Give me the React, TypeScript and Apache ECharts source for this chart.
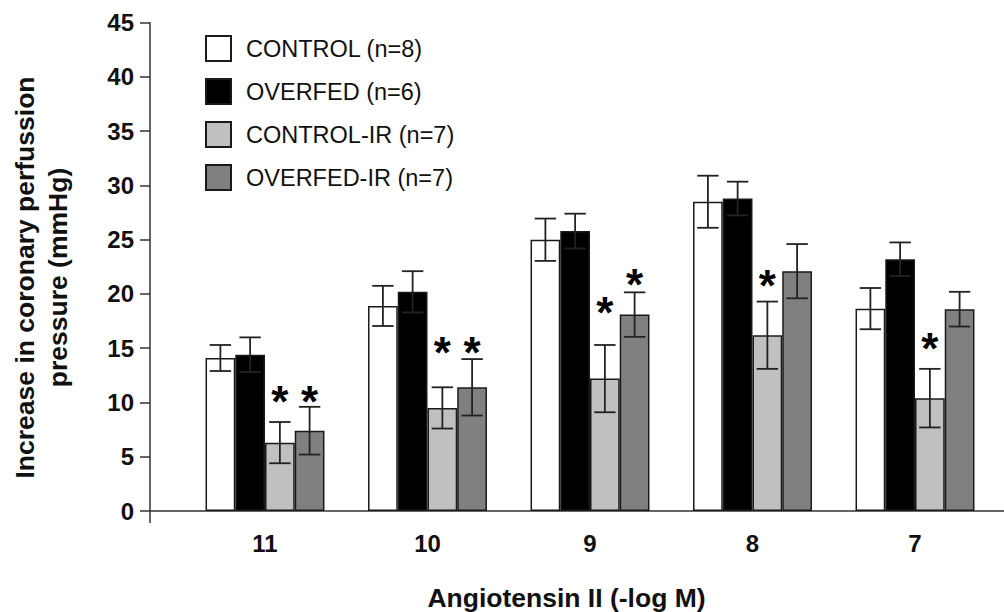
import React, { useEffect, useRef } from "react";
import * as echarts from "echarts";

const CATEGORIES = ["11", "10", "9", "8", "7"];
const SERIES_NAMES = ["CONTROL (n=8)", "OVERFED (n=6)", "CONTROL-IR (n=7)", "OVERFED-IR (n=7)"];
const SERIES_COLORS = ["#ffffff", "#000000", "#c0c0c0", "#808080"];

const CONTROL = [14.1, 18.9, 25.0, 28.5, 18.65];
const CONTROL_ERR = [1.2, 1.85, 1.95, 2.4, 1.9];
const OVERFED = [14.4, 20.2, 25.8, 28.8, 23.2];
const OVERFED_ERR = [1.6, 1.9, 1.6, 1.55, 1.55];
const CONTROL_IR = [6.3, 9.5, 12.2, 16.2, 10.4];
const CONTROL_IR_ERR = [1.9, 1.9, 3.1, 3.1, 2.7];
const OVERFED_IR = [7.4, 11.4, 18.1, 22.1, 18.6];
const OVERFED_IR_ERR = [2.2, 2.6, 2.05, 2.5, 1.6];

// y position (data units) of the significance asterisks
const STAR_CONTROL_IR = [10.9, 15.45, 19.1, 21.6, 15.8];
const STAR_OVERFED_IR = [10.9, 15.45, 21.7, null, null];

const Y_TICKS_MIN = 0;
const Y_TICKS_MAX = 45;
const Y_TICKS_INTERVAL = 5;

const FONT = "'Liberation Sans', Arial, Helvetica, sans-serif";
const CAT_GAP = 0.268;

export default function App() {
  const ref = useRef<HTMLDivElement>(null);

  useEffect(() => {
    if (!ref.current) return;
    const chart = echarts.init(ref.current, undefined, { renderer: "svg" });

    const values = [CONTROL, OVERFED, CONTROL_IR, OVERFED_IR];
    const errs = [CONTROL_ERR, OVERFED_ERR, CONTROL_IR_ERR, OVERFED_IR_ERR];
    const nSeries = values.length;

    const errData: number[][] = [];
    values.forEach((arr, s) => {
      arr.forEach((v, c) => errData.push([c, s, v, errs[s][c]]));
    });
    const starData: number[][] = [];
    STAR_CONTROL_IR.forEach((v, c) => {
      if (v != null) starData.push([c, 2, v]);
    });
    STAR_OVERFED_IR.forEach((v, c) => {
      if (v != null) starData.push([c, 3, v]);
    });

    const barOffset = (api: any, s: number) => {
      const band = api.size([1, 0])[0];
      const groupW = band * (1 - CAT_GAP);
      const bw = groupW / nSeries;
      return { off: -groupW / 2 + bw * (s + 0.5), bw };
    };

    const barSeries = values.map((arr, s) => ({
      type: "bar",
      name: SERIES_NAMES[s],
      xAxisIndex: 0,
      yAxisIndex: 0,
      data: arr,
      barGap: "0%",
      barCategoryGap: CAT_GAP * 100 + "%",
      itemStyle: {
        color: SERIES_COLORS[s],
        borderColor: "#1a1a1a",
        borderWidth: 1.5,
      },
      emphasis: { disabled: true },
      z: 2,
    }));

    const option: any = {
      animation: false,
      backgroundColor: "#ffffff",
      textStyle: { fontFamily: FONT },
      grid: [
        { left: 183.75, width: 812.5, top: 22.7, bottom: 101, containLabel: false },
        { left: 150, right: 0, top: 22.7, bottom: 101, containLabel: false },
      ],
      legend: {
        orient: "vertical",
        left: 200,
        top: 30,
        itemWidth: 25,
        itemHeight: 25,
        itemGap: 16,
        icon: "rect",
        selectedMode: false,
        data: SERIES_NAMES,
        textStyle: {
          fontFamily: FONT,
          fontSize: 23.5,
          color: "#111",
          padding: [0, 0, 0, 10],
        },
      },
      xAxis: [
        {
          type: "category",
          gridIndex: 0,
          data: CATEGORIES,
          axisLine: { show: false },
          axisTick: { show: false },
          axisLabel: {
            fontFamily: FONT,
            fontSize: 24,
            fontWeight: "bold",
            color: "#111",
            margin: 20,
          },
          splitLine: { show: false },
        },
        {
          type: "value",
          gridIndex: 1,
          min: 0,
          max: 1,
          axisLine: { show: true, lineStyle: { color: "#333", width: 1.5 } },
          axisTick: { show: false },
          axisLabel: { show: false },
          splitLine: { show: false },
        },
      ],
      yAxis: [
        {
          type: "value",
          gridIndex: 0,
          min: Y_TICKS_MIN,
          max: Y_TICKS_MAX,
          interval: Y_TICKS_INTERVAL,
          show: false,
        },
        {
          type: "value",
          gridIndex: 1,
          min: Y_TICKS_MIN,
          max: Y_TICKS_MAX,
          interval: Y_TICKS_INTERVAL,
          axisLine: { show: true, lineStyle: { color: "#333", width: 1.5 } },
          axisTick: { show: true, inside: false, length: 10, lineStyle: { color: "#333", width: 1.5 } },
          axisLabel: {
            fontFamily: FONT,
            fontSize: 24,
            fontWeight: "bold",
            color: "#111",
            margin: 16,
          },
          splitLine: { show: false },
        },
      ],
      series: [
        ...barSeries,
        {
          type: "custom",
          name: "errors",
          xAxisIndex: 0,
          yAxisIndex: 0,
          z: 5,
          silent: true,
          data: errData,
          encode: { x: 0, y: 2 },
          renderItem: (params: any, api: any) => {
            const c = api.value(0);
            const s = api.value(1);
            const m = api.value(2);
            const e = api.value(3);
            const { off, bw } = barOffset(api, s);
            const top = api.coord([c, m + e]);
            const bot = api.coord([c, m - e]);
            const x = top[0] + off;
            const hw = bw * 0.36;
            const style = { stroke: "#222", lineWidth: 1.8, fill: "none" };
            return {
              type: "group",
              children: [
                { type: "line", shape: { x1: x, y1: top[1], x2: x, y2: bot[1] }, style },
                { type: "line", shape: { x1: x - hw, y1: top[1], x2: x + hw, y2: top[1] }, style },
                { type: "line", shape: { x1: x - hw, y1: bot[1], x2: x + hw, y2: bot[1] }, style },
              ],
            };
          },
        },
        {
          type: "custom",
          name: "stars",
          xAxisIndex: 0,
          yAxisIndex: 0,
          z: 6,
          silent: true,
          data: starData,
          encode: { x: 0, y: 2 },
          renderItem: (params: any, api: any) => {
            const c = api.value(0);
            const s = api.value(1);
            const v = api.value(2);
            const { off } = barOffset(api, s);
            const p = api.coord([c, v]);
            const fs = 44;
            return {
              type: "text",
              x: p[0] + off,
              y: p[1] + fs * 0.2,
              style: {
                text: "*",
                fontFamily: FONT,
                fontSize: fs,
                fontWeight: "bold",
                fill: "#000",
                align: "center",
                verticalAlign: "middle",
              },
            };
          },
        },
      ],
      graphic: [
        {
          type: "line",
          shape: { x1: 150, y1: 511, x2: 150, y2: 523 },
          style: { stroke: "#333", lineWidth: 1.5 },
          silent: true,
        },
        {
          type: "text",
          x: 566.5,
          y: 597.5,
          style: {
            text: "Angiotensin II (-log M)",
            fontFamily: FONT,
            fontSize: 26.5,
            fontWeight: "bold",
            fill: "#111",
            align: "center",
            verticalAlign: "middle",
          },
          silent: true,
        },
        {
          type: "text",
          x: 24.5,
          y: 277.5,
          rotation: Math.PI / 2,
          style: {
            text: "Increase in coronary perfussion",
            fontFamily: FONT,
            fontSize: 26.5,
            fontWeight: "bold",
            fill: "#111",
            align: "center",
            verticalAlign: "middle",
          },
          silent: true,
        },
        {
          type: "text",
          x: 57.5,
          y: 277.5,
          rotation: Math.PI / 2,
          style: {
            text: "pressure (mmHg)",
            fontFamily: FONT,
            fontSize: 26.5,
            fontWeight: "bold",
            fill: "#111",
            align: "center",
            verticalAlign: "middle",
          },
          silent: true,
        },
      ],
    };

    chart.setOption(option);
    return () => {
      chart.dispose();
    };
  }, []);

  return (
    <div
      ref={ref}
      style={{ position: "absolute", left: 0, top: 0, width: 1004, height: 612, background: "#fff" }}
    />
  );
}
